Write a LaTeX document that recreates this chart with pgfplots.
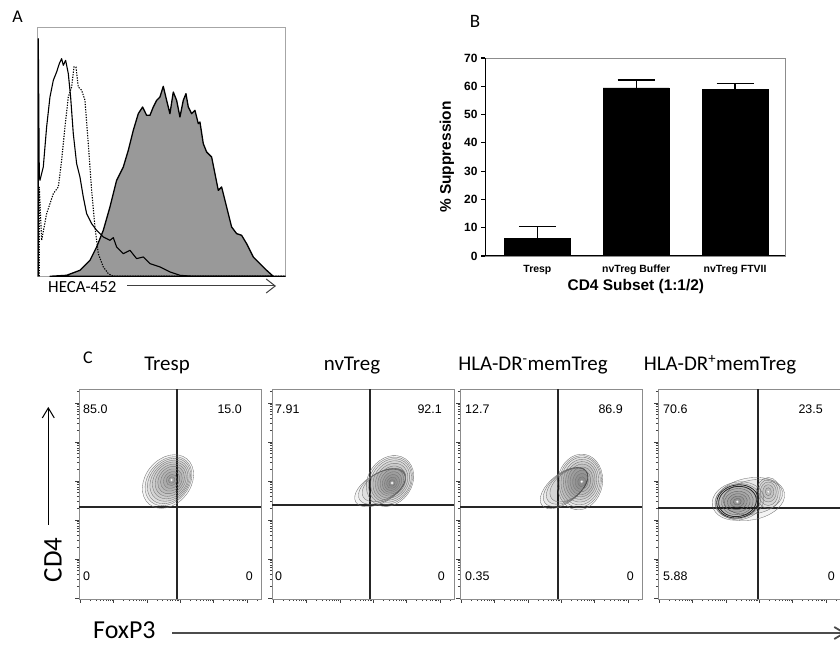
\documentclass[border=0pt]{standalone}
\usepackage{pgfplots}
\pgfplotsset{compat=1.18}
\usepackage{fontspec}
\setmainfont{Carlito}
\newfontfamily\arial{Liberation Sans}
\usetikzlibrary{arrows.meta}

% log-like minor ticks for the flow plots (positions in bp from the box corner)
\def\mxt{-500}\def\myt{-500}
\foreach \k in {0,...,5}{\foreach \n in {2,...,9}{%
  \pgfmathsetmacro\vx{1+33.4*(\k+log10(\n))}%
  \pgfmathsetmacro\vy{1+39*(\k+log10(\n))}%
  \xdef\mxt{\mxt,\vx}\xdef\myt{\myt,\vy}}}

\pgfdeclareplotmark{ell}{%
  \pgfpathellipse{\pgfpointorigin}{\pgfpoint{\ea bp}{0bp}}{\pgfpoint{0bp}{\eb bp}}%
  \pgfusepathqfillstroke}

\pgfplotsset{
  flow/.style={anchor=south west, width=182bp, height=210bp, scale only axis,
    xmin=0, xmax=182, ymin=0, ymax=210,
    axis line style={black!45, line width=0.7bp},
    tick align=outside, xtick pos=left, ytick pos=left,
    xtick={1,34.4,67.8,101.2,134.6,168}, ytick={1,40,79,118,157,196},
    minor xtick/.expanded=\mxt, minor ytick/.expanded=\myt,
    xticklabels={}, yticklabels={},
    major tick length=4bp, minor tick length=2.2bp,
    every tick/.append style={black!75, line width=0.6bp},
    clip=false},
  contour/.style={scatter, only marks, mark=ell,
    scatter/use mapped color={draw=black!55, fill=black, fill opacity=0.045},
    line width=0.35bp, mark options={rotate=#1},
    visualization depends on={\thisrow{a}\as\ea},
    visualization depends on={\thisrow{b}\as\eb}},
  darkcontour/.style={contour=#1, line width=0.8bp,
    scatter/use mapped color={draw=black!85, fill=black, fill opacity=0.08}},
  peak/.style={only marks, mark=*, mark size=1.5bp,
    mark options={draw=black!35, fill=white, line width=0.3bp}},
  qline/.style={black!85, line width=1.1bp, no marks},
}
\tikzset{qnum/.style={font=\arial\fontsize{12.5}{14}\selectfont, inner sep=0pt}}

\begin{document}
\begin{tikzpicture}
\useasboundingbox (0,0) rectangle (840bp,645bp);

% ---------------- Panel A ----------------
\node[font=\fontsize{18}{20}\selectfont, anchor=base] at (17.5bp,622bp) {A};
\begin{axis}[at={(37.3bp,368.7bp)}, anchor=south west, width=248.3bp, height=249.3bp,
  scale only axis, xmin=0, xmax=745, ymin=0, ymax=748, xtick=\empty, ytick=\empty,
  axis line style={black!35, line width=0.8bp}]
\addplot[fill=black!40, draw=black, line width=1.3bp, line join=round] coordinates {
(38,0) (88,3) (128,18) (158,48) (178,88) (198,138) (218,208) (238,288) (258,328)
(273,378) (288,438) (303,488) (316,508) (328,483) (338,483) (348,508) (358,528)
(368,538) (378,570) (388,528) (398,488) (408,553) (418,528) (428,478) (438,528)
(446,548) (453,508) (463,488) (473,498) (483,458) (488,463) (498,398) (508,373)
(523,358) (533,308) (543,258) (553,268) (568,208) (583,148) (598,128) (613,123)
(628,98) (648,58) (668,38) (688,18) (708,0)} \closedcycle;
\addplot[black, line width=1.1bp, dash pattern=on 1.3bp off 1.3bp] coordinates {
(6,0) (6,268) (13,108) (28,188) (48,248) (63,268) (73,348) (83,448) (93,538)
(103,568) (110,628) (116,628) (123,568) (133,558) (143,528) (153,398) (163,258)
(173,148) (183,68) (198,28) (213,8) (228,0) (745,0)};
\addplot[black, line width=1.1bp, line join=round] coordinates {
(3,0) (3,713) (6,300) (8,288) (18,328) (28,448) (38,538) (48,588) (58,613) (66,638)
(73,653) (78,633) (85,648) (93,608) (100,538) (108,428) (118,338) (128,298)
(138,238) (148,188) (163,158) (178,138) (198,118) (218,108) (228,116) (238,88)
(258,68) (278,78) (298,53) (318,58) (338,38) (368,28) (398,13) (428,3) (468,0) (745,0)};
\end{axis}
\node[font=\fontsize{17}{19}\selectfont, anchor=base west, inner sep=0pt] at (48bp,352.5bp) {HECA-452};
\draw[black!75, line width=1bp, -{Straight Barb[length=9bp,width=14bp]}] (127bp,359bp) -- (276bp,359bp);

% ---------------- Panel B ----------------
\node[font=\fontsize{19}{21}\selectfont, anchor=base] at (475bp,617bp) {B};
\begin{axis}[at={(485bp,389bp)}, anchor=south west, width=300bp, height=198bp,
  scale only axis, xmin=-0.53, xmax=2.505, ymin=0, ymax=70,
  ybar, bar width=66bp,
  ytick={0,10,...,70}, xtick={0,1,2},
  xticklabels={Tresp, nvTreg Buffer, nvTreg FTVII},
  axis line style={black!45, line width=0.7bp},
  xtick pos=left, ytick pos=left, tick align=outside, major tick length=4bp,
  ytick style={black, line width=1.2bp}, xtick style={draw=none},
  /pgf/number format/assume math mode=true,
  yticklabel style={font=\arial\bfseries\fontsize{12}{13}\selectfont},
  xticklabel style={font=\arial\bfseries\fontsize{10.5}{12}\selectfont, text height=7.6bp, text depth=2.2bp, yshift=-1bp},
  xlabel={CD4 Subset (1:1/2)}, ylabel={\% Suppression},
  xlabel style={font=\arial\bfseries\fontsize{15.5}{17}\selectfont, at={(axis description cs:0.503,-0.152)}, anchor=center},
  ylabel style={font=\arial\bfseries\fontsize{15.5}{17}\selectfont, at={(axis description cs:-0.127,0.5)}, anchor=center}]
\addplot[fill=black, draw=black,
  error bars/.cd, y dir=plus, y explicit,
  error bar style={line width=1.3bp, black},
  error mark options={rotate=90, mark size=18.5bp, line width=1.3bp, black}]
  coordinates {(0,6.3) +- (0,4.1) (1,59.4) +- (0,2.8) (2,58.8) +- (0,2.2)};
\draw[black, line width=1.8bp] (rel axis cs:0,1) -- (rel axis cs:0,0) -- (rel axis cs:1,0);
\end{axis}

% ---------------- Panel C ----------------
\node[font=\fontsize{18}{20}\selectfont, anchor=base] at (88bp,281bp) {C};
\node[font=\fontsize{21}{23}\selectfont, anchor=base] at (167bp,274bp) {Tresp};
\node[font=\fontsize{21}{23}\selectfont, anchor=base] at (352bp,274bp) {nvTreg};
\node[font=\fontsize{21}{23}\selectfont, anchor=base] at (533bp,274bp) {HLA-DR\textsuperscript{-}memTreg};
\node[font=\fontsize{21}{23}\selectfont, anchor=base] at (720bp,274bp) {HLA-DR\textsuperscript{+}memTreg};

% Tresp
\begin{axis}[flow, at={(79bp,46bp)}]
\addplot[contour=50] table {
x y a b
89.0 117.5 29.5 22.5
89.5 117.8 27 20.5
90.0 118.0 25 19
90.6 118.3 22.5 17.5
91.2 118.6 20 16
91.7 118.8 17.5 14
92.1 119.0 15 12
92.4 119.0 12 10
92.6 119.0 9 7.5
92.7 119.0 6 5
92.7 119.0 3.5 3
};
\addplot[peak] coordinates {(92.7,119)};
\addplot[qline] coordinates {(98,0) (98,210)};
\addplot[qline] coordinates {(0,92) (182,92)};
\node[qnum, anchor=west] at (axis cs:4,190) {85.0};
\node[qnum, anchor=east] at (axis cs:163,190) {15.0};
\node[qnum, anchor=west] at (axis cs:4,23) {0};
\node[qnum, anchor=east] at (axis cs:174,23) {0};
\end{axis}

% nvTreg
\begin{axis}[flow, at={(272bp,46bp)}]
\addplot[contour=30] table {
x y a b
108 111 28 14.5
110 112.5 26 14
112 114 24 13.5
};
\addplot[contour=55] table {
x y a b
118 118 27 22
118.5 118.3 25 20.5
119 118.5 23 19
119.3 118.5 21 17
119.6 118.3 18.5 15
119.8 118 16 13
119.9 117.5 13.5 11
120 117 11 9
120 116.5 8.5 7
120 116.2 6 5
120 116 3.5 3
};
\addplot[peak] coordinates {(120,116)};
\addplot[qline] coordinates {(98,0) (98,210)};
\addplot[qline] coordinates {(0,94) (182,94)};
\node[qnum, anchor=west] at (axis cs:3,190) {7.91};
\node[qnum, anchor=east] at (axis cs:170,190) {92.1};
\node[qnum, anchor=west] at (axis cs:3,23) {0};
\node[qnum, anchor=east] at (axis cs:173,23) {0};
\end{axis}

% HLA-DR- memTreg
\begin{axis}[flow, at={(460bp,46bp)}]
\addplot[contour=38] table {
x y a b
104 111 28 14.5
105.5 112 26 14
107 113 24 13.5
109 114 22 13
};
\addplot[contour=80] table {
x y a b
120 117 28 22.5
120.3 117.5 26 21
120.6 118 24 19.5
120.9 118.3 21.5 17.5
121.2 118.5 19 15.5
121.4 118.5 16.5 13.5
121.6 118.2 14 11.5
121.7 118 11 9
121.7 117.6 8 6.5
121.7 117.3 5 4
};
\addplot[peak] coordinates {(121.7,117.3)};
\addplot[qline] coordinates {(98,0) (98,210)};
\addplot[qline] coordinates {(0,92) (182,92)};
\node[qnum, anchor=west] at (axis cs:5,190) {12.7};
\node[qnum, anchor=east] at (axis cs:163,190) {86.9};
\node[qnum, anchor=west] at (axis cs:5,23) {0.35};
\node[qnum, anchor=east] at (axis cs:174,23) {0};
\end{axis}

% HLA-DR+ memTreg
\begin{axis}[flow, at={(658bp,46bp)}]
\addplot[contour=10] table {
x y a b
92 100 35 21
95 102 30 17
};
\addplot[contour=0] table {
x y a b
110.3 106 12 15.5
110.3 106.5 10 13
110.3 107 8 10
110.3 107.3 5.5 7
110.3 107.3 3 4
};
\addplot[contour=10] table {
x y a b
80 98 26 19
79.8 97.8 23 17.5
79.4 97.4 16 13
79.3 97.3 13 10.5
79.3 97.3 10 8
79.3 97.3 7 5.5
79.3 97.3 4 3.3
};
\addplot[darkcontour=10] table {
x y a b
79.6 97.6 21 16.5
79.5 97.5 19 15
};
\addplot[peak] coordinates {(79.3,97.3) (110.3,107.3)};
\addplot[qline] coordinates {(100,0) (100,210)};
\addplot[qline] coordinates {(0,91) (182,91)};
\node[qnum, anchor=west] at (axis cs:5,190) {70.6};
\node[qnum, anchor=east] at (axis cs:165,190) {23.5};
\node[qnum, anchor=west] at (axis cs:5,23) {5.88};
\node[qnum, anchor=east] at (axis cs:177,23) {0};
\end{axis}

% axis captions of panel C
\node[rotate=90, font=\fontsize{27}{30}\selectfont, anchor=base] at (61.5bp,85bp) {CD4};
\draw[black, line width=1bp, -{Straight Barb[length=10bp,width=12bp]}] (48.3bp,120bp) -- (48.3bp,238bp);
\node[font=\fontsize{26}{28}\selectfont, anchor=base west, inner sep=0pt] at (93bp,7bp) {FoxP3};
\draw[black!70, line width=1.8bp, -{Straight Barb[length=10bp,width=12bp]}] (172bp,12bp) -- (846bp,12bp);
\end{tikzpicture}
\end{document}
